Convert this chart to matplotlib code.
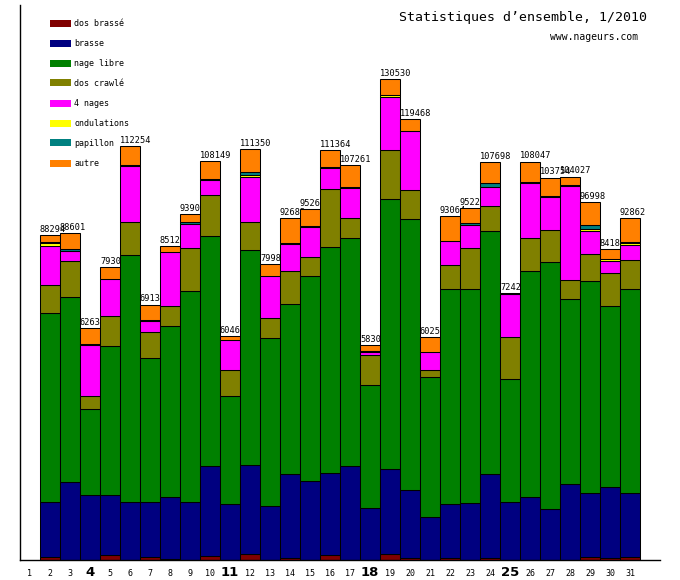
import matplotlib
matplotlib.use('Agg')
import matplotlib.pyplot as plt
from matplotlib.patches import Rectangle

# DATA (days 2..31, day 1 has no data)
days = list(range(2, 32))
day_labels = [str(d) for d in range(1, 32)]
sundays = [4, 11, 18, 25]

dos_brasse = [730, 0, 0, 1280, 0, 730, 350, 0, 1000, 0, 1550, 0, 460, 0, 1280,
              0, 0, 1550, 460, 0, 460, 0, 460, 0, 0, 0, 0, 810, 460, 730]
brasse = [14920, 21080, 17550, 16360, 15650, 14920, 16660, 15650, 24500, 15110,
          24150, 14570, 22790, 21350, 22250, 25420, 14030, 23060, 18450, 11580,
          14650, 15380, 22790, 15650, 17010, 13750, 20540, 17360, 19260, 17360]
nage_libre = [51280, 50270, 23330, 40340, 67010, 39070, 46390, 57240, 62320, 29300,
              58330, 45580, 46120, 55620, 61310, 61860, 33370, 73250, 73520, 37980,
              58330, 58060, 65930, 33370, 61310, 67010, 50190, 57430, 49110, 55350]
dos_crawle = [7600, 9690, 3530, 8140, 8950, 7050, 5430, 11670, 11120, 7050,
              7600, 5430, 8950, 5150, 15740, 5430, 8140, 13290, 7870, 1900,
              6510, 11120, 6780, 11390, 8950, 8680, 5150, 7330, 8950, 7870]
quatre_nages = [10740, 2880, 13840, 10040, 15270, 2980, 14650, 6590, 4260, 8140,
                12370, 11390, 7330, 8140, 5700, 8140, 800, 14380, 16010, 4880,
                6510, 6240, 5150, 11670, 14920, 8950, 25500, 6240, 3260, 4230]
ondulations = [810, 0, 0, 0, 0, 0, 0, 0, 0, 0, 540, 0, 0, 0, 0, 0, 0, 620, 0, 0,
               0, 0, 0, 200, 0, 0, 0, 540, 620, 540]
papillon = [300, 400, 300, 0, 300, 300, 0, 600, 300, 0, 730, 0, 300, 300, 300,
            350, 300, 0, 0, 0, 0, 540, 1090, 0, 300, 300, 300, 1090, 0, 300]
autre = [1740, 4300, 4310, 3260, 5020, 4260, 1790, 2170, 4650, 1090, 6160, 3260,
         6700, 4690, 4690, 5890, 1700, 4380, 3260, 4070, 6780, 4070, 5700, 250,
         5620, 5070, 2360, 6240, 2630, 6430]
totals = [88294, 88601, 62634, 79306, 112254, 69135, 85128, 93908, 108149, 60468,
          111350, 79987, 92683, 95264, 111364, 107261, 58306, 130530, 119468, 60257,
          93064, 95227, 107698, 72426, 108047, 103754, 104027, 96998, 84183, 92862]

series = [dos_brasse, brasse, nage_libre, dos_crawle, quatre_nages,
          ondulations, papillon, autre]
names = ['dos brassé', 'brasse', 'nage libre', 'dos crawlé', '4 nages',
         'ondulations', 'papillon', 'autre']
colors = ['#800000', '#000080', '#008000', '#808000', '#ff00ff',
          '#ffff00', '#008080', '#ff8000']

W, H = 680, 580
mono = 'DejaVu Sans Mono'

fig = plt.figure(figsize=(W / 100, H / 100), dpi=100)
fig.patch.set_facecolor('white')
ax = fig.add_axes([20 / W, (H - 560) / H, 640 / W, 555 / H])
ax.set_xlim(0.5, 32.5)
ax.set_ylim(0, 555 * 271.3)
for s in ['top', 'right']:
    ax.spines[s].set_visible(False)
for s in ['left', 'bottom']:
    ax.spines[s].set_linewidth(1.0)
ax.set_xticks([])
ax.set_yticks([])

# STACKED BARS, one day at a time so the next bar covers the previous label
for i, d in enumerate(days):
    bottom = 0
    for vals, col in zip(series, colors):
        v = vals[i]
        if v > 0:
            ax.bar(d, v, width=1.0, bottom=bottom, color=col, edgecolor='black',
                   linewidth=0.75, zorder=2 + i * 0.01)
        bottom += v
    ax.text(d - 0.5, bottom + 300, str(totals[i]), ha='left', va='bottom',
            fontsize=6.2, family=mono, zorder=2 + i * 0.01 + 0.005,
            clip_on=False)

# DAY LABELS
for d, lab in zip(range(1, 32), day_labels):
    if d in sundays:
        ax.text(d, -13 / 555, lab, transform=ax.get_xaxis_transform(),
                ha='center', va='center', fontsize=9.5, fontweight='bold',
                family='DejaVu Sans')
    else:
        ax.text(d, -13 / 555, lab, transform=ax.get_xaxis_transform(),
                ha='center', va='center', fontsize=6, family=mono)

# LEGEND
for k, (name, col) in enumerate(zip(names, colors)):
    yc = 23 + 20 * k
    fig.add_artist(Rectangle((50 / W, 1 - (yc + 3.5) / H), 21 / W, 7 / H,
                             facecolor=col, edgecolor='none',
                             transform=fig.transFigure))
    fig.text(74.5 / W, 1 - yc / H, name, ha='left', va='center',
             fontsize=6, family=mono)

# TITLE
fig.text(647 / W, 1 - 18 / H, 'Statistiques d\u2019ensemble, 1/2010',
         ha='right', va='center', fontsize=9.5, family=mono)
fig.text(638 / W, 1 - 37 / H, 'www.nageurs.com', ha='right', va='center',
         fontsize=7, family=mono)

fig.savefig('out.png', dpi=100)
